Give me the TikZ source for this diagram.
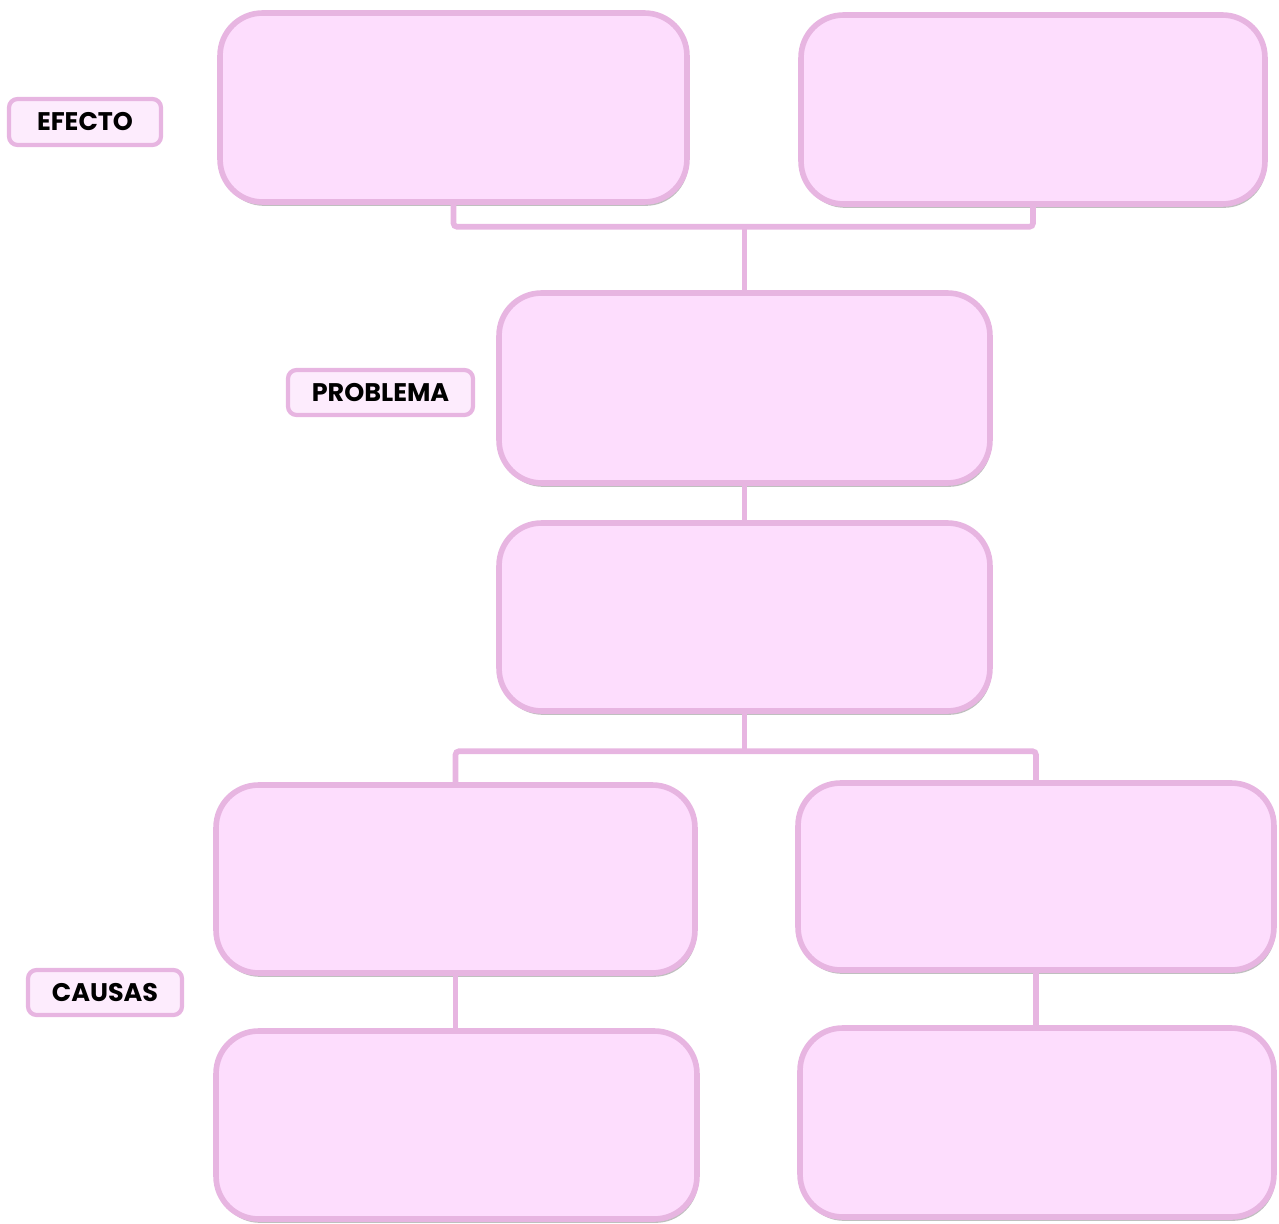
\documentclass[tikz,border=0pt]{standalone}
\usepackage{fontspec}
\setmainfont{Poppins}
\usetikzlibrary{positioning, shadows}
\definecolor{boxcolor}{RGB}{253,221,253}
\definecolor{tagcolor}{RGB}{253,236,253}
\definecolor{linecolor}{RGB}{231,181,225}

\begin{document}
\begin{tikzpicture}[
    x=0.02cm, y=-0.02cm,
    bigbox/.style={rectangle, rounded corners=0.85cm, draw=linecolor, line width=3.2pt, fill=boxcolor,
        drop shadow={shadow xshift=0.8pt, shadow yshift=-2.2pt, opacity=0.5, fill=gray}},
    tag/.style={rectangle, rounded corners=0.17cm, draw=linecolor, line width=2.4pt, fill=tagcolor,
        font=\fontsize{14.5}{16}\selectfont\bfseries, inner sep=0pt},
    link/.style={draw=linecolor, line width=3.2pt, rounded corners=2pt}
]
\useasboundingbox (0,0) rectangle (1279,1224);

% Effects
\node[bigbox, minimum width=9.34cm, minimum height=3.78cm] (efecto1) at (453.5,107.5) {};
\node[bigbox, minimum width=9.28cm, minimum height=3.78cm] (efecto2) at (1033,109.5) {};

% Problem
\node[bigbox, minimum width=9.82cm, minimum height=3.8cm] (problema) at (744.5,388) {};
\node[bigbox, minimum width=9.82cm, minimum height=3.76cm] (centro) at (744.5,617) {};

% Causes
\node[bigbox, minimum width=9.58cm, minimum height=3.76cm] (causa1) at (455.5,879) {};
\node[bigbox, minimum width=9.52cm, minimum height=3.74cm] (causa2) at (1036,876.5) {};
\node[bigbox, minimum width=9.62cm, minimum height=3.76cm] (sub1) at (456.5,1125) {};
\node[bigbox, minimum width=9.48cm, minimum height=3.78cm] (sub2) at (1037,1122.5) {};

% Tags
\node[tag, minimum width=3.04cm, minimum height=0.92cm] (tefecto) at (85,122) {EFECTO};
\node[tag, minimum width=3.7cm, minimum height=0.9cm] (tproblema) at (380.5,392.5) {PROBLEMA};
\node[tag, minimum width=3.08cm, minimum height=0.9cm] (tcausas) at (105,992.5) {CAUSAS};

% Links
\draw[link] (efecto1.south) -- ++(0,22) -| (efecto2.south);
\draw[link] (problema.north) -- ++(0,-61);
\draw[link] (problema.south) -- (centro.north);
\draw[link] (centro.south) -- ++(0,35);
\draw[link] (causa1.north) -- ++(0,-31) -| (causa2.north);
\draw[link] (causa1.south) -- (causa1.south |- sub1.north);
\draw[link] (causa2.south) -- (causa2.south |- sub2.north);

\end{tikzpicture}
\end{document}
